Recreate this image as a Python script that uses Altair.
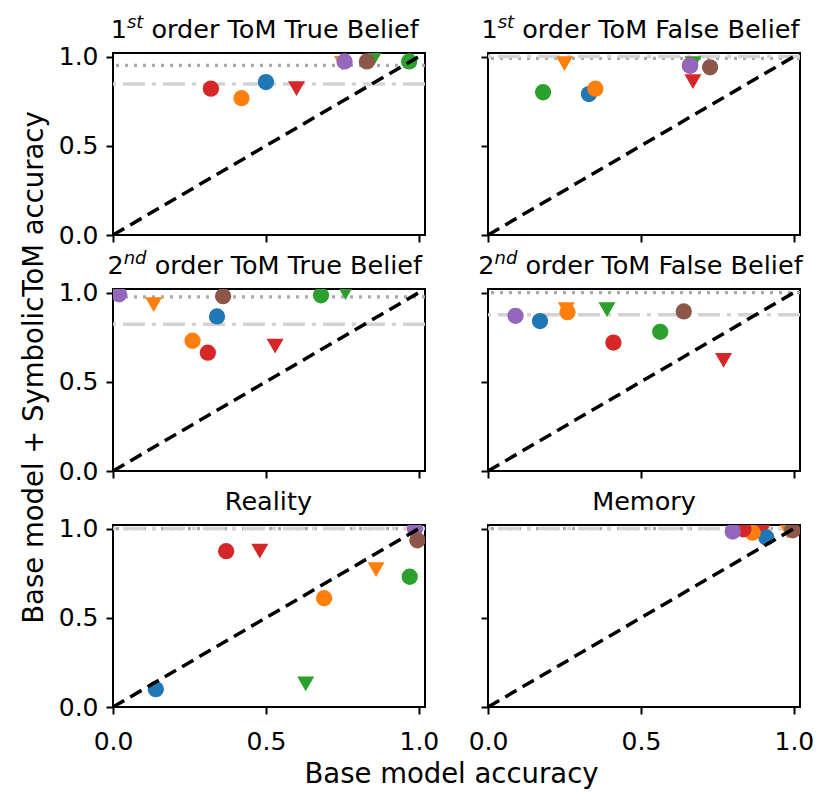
import altair as alt
import pandas as pd

# ---------------- data ----------------
title_num = ["1", "1", "2", "2", "", ""]
title_sup = ["st", "st", "nd", "nd", "", ""]
title_rest = [" order ToM True Belief", " order ToM False Belief",
              " order ToM True Belief", " order ToM False Belief",
              "Reality", "Memory"]

series_names = ["orange ▼", "green ▼", "red ▼",
                "blue ●", "orange ●", "green ●", "red ●", "purple ●", "brown ●"]
series_colors = ["#ff7f0e", "#2ca02c", "#d62728",
                 "#1f77b4", "#ff7f0e", "#2ca02c", "#d62728", "#9467bd", "#8c564b"]
series_shapes = ["triangle-down"] * 3 + ["circle"] * 6

# base model accuracy (x) / base model + SymbolicToM accuracy (y), per panel
base_tb1 = [0.75, 0.855, 0.60, 0.50, 0.42, 0.968, 0.32, 0.757, 0.83]
symb_tb1 = [0.962, 0.995, 0.82, 0.857, 0.767, 0.973, 0.82, 0.973, 0.973]

base_fb1 = [0.25, 0.67, 0.67, 0.33, 0.351, 0.18, 0.66, 0.661, 0.726]
symb_fb1 = [0.96, 0.96, 0.86, 0.79, 0.82, 0.80, 0.95, 0.949, 0.94]

base_tb2 = [0.133, 0.76, 0.53, 0.34, 0.26, 0.68, 0.31, 0.02, 0.36]
symb_tb2 = [0.932, 1.0, 0.70, 0.866, 0.73, 0.985, 0.663, 0.99, 0.98]

base_fb2 = [0.256, 0.389, 0.77, 0.17, 0.26, 0.563, 0.41, 0.09, 0.64]
symb_fb2 = [0.905, 0.905, 0.62, 0.84, 0.89, 0.78, 0.72, 0.87, 0.894]

base_real = [0.86, 0.63, 0.48, 0.14, 0.69, 0.97, 0.37, 0.987, 0.995]
symb_real = [0.77, 0.13, 0.873, 0.10, 0.61, 0.73, 0.873, 1.0, 0.934]

base_mem = [0.98, 0.995, 0.90, 0.91, 0.865, 0.995, 0.835, 0.80, 0.996]
symb_mem = [0.985, 0.995, 0.995, 0.95, 0.977, 0.995, 0.996, 0.983, 0.99]

dotted_y = [0.951, 0.99, 0.976, 1.0, 1.0, 1.0]
dashdot_y = [0.846, 1.0, 0.823, 0.875, 1.0, 1.0]

diag = [0.0, 1.02]
tick_values = [0.0, 0.5, 1.0]
axis_domain = [0.0, 1.02]

bases = [base_tb1, base_fb1, base_tb2, base_fb2, base_real, base_mem]
symbs = [symb_tb1, symb_fb1, symb_tb2, symb_fb2, symb_real, symb_mem]

# ---------------- layout helpers ----------------
W_PLOT, H_PLOT = 312, 182
FONT = "DejaVu Sans"
TITLE_SIZE = 25.5
SUP_SIZE = 18

ADV = {' ': 651, '1': 1303, '2': 1303, 'o': 1253, 'r': 842, 'd': 1300, 'e': 1260,
       'T': 1251, 'M': 1767, 'u': 1298, 'B': 1405, 'l': 569, 'i': 569, 'f': 721,
       'F': 1178, 'a': 1255, 's': 1067, 't': 803, 'n': 1298, 'R': 1423, 'y': 1212,
       'm': 1995, 'c': 1126, 'b': 1300}


def text_w(s, size):
    return sum(ADV.get(c, 1200) for c in s) / 2048.0 * size


def panel(i):
    row, col = divmod(i, 2)
    xs = alt.Scale(domain=axis_domain, nice=False, zero=False)
    ys = alt.Scale(domain=axis_domain, nice=False, zero=False)

    common = dict(values=tick_values, format=".1f", labelFlush=False)
    if i == 4:
        xaxis = alt.Axis(labels=True, titleX=338, labelPadding=15, titlePadding=6, **common)
        xtitle = "Base model accuracy"
    else:
        xaxis = alt.Axis(labels=(row == 2), labelPadding=15, **common)
        xtitle = None
    if i == 2:
        yaxis = alt.Axis(labels=True, titleY=78, labelPadding=8, titlePadding=10, **common)
        ytitle = "Base model + SymbolicToM accuracy"
    else:
        yaxis = alt.Axis(labels=(col == 0), labelPadding=8, **common)
        ytitle = None

    def X(f):
        return alt.X(f, scale=xs, axis=xaxis, title=xtitle)

    def Y(f):
        return alt.Y(f, scale=ys, axis=yaxis, title=ytitle)

    df = pd.DataFrame({"series": series_names, "base": bases[i], "symb": symbs[i],
                       "shape": series_shapes})
    color = alt.Color("series:N", scale=alt.Scale(domain=series_names, range=series_colors),
                      legend=None)

    dotted = alt.Chart(pd.DataFrame({"symb": [dotted_y[i]]})).mark_rule(
        color="#a9a9a9", strokeWidth=3.2, strokeDash=[3, 6]
    ).encode(y=Y("symb:Q"))

    dashdot = alt.Chart(pd.DataFrame({"symb": [dashdot_y[i]]})).mark_rule(
        color="#d3d3d3", strokeWidth=3.5, strokeDash=[22, 7, 4, 7]
    ).encode(y=Y("symb:Q"))

    tri = alt.Chart(df).transform_filter(alt.datum.shape == "triangle-down").mark_point(
        shape="triangle-down", filled=True, opacity=1, size=290, clip=True
    ).encode(x=X("base:Q"), y=Y("symb:Q"), color=color)

    circ = alt.Chart(df).transform_filter(alt.datum.shape == "circle").mark_point(
        shape="circle", filled=True, opacity=1, size=265, clip=True
    ).encode(x=X("base:Q"), y=Y("symb:Q"), color=color)

    line = alt.Chart(pd.DataFrame({"base": diag, "symb": diag})).mark_line(
        color="black", strokeWidth=3.5, strokeDash=[13, 7], clip=True
    ).encode(x=X("base:Q"), y=Y("symb:Q"))

    one = pd.DataFrame({"k": [0]})
    n, s, r = title_num[i], title_sup[i], title_rest[i]
    w_n = text_w(n, TITLE_SIZE)
    w_s = text_w(s, SUP_SIZE)
    lead = len(r) - len(r.lstrip(" "))
    w_lead = text_w(" " * lead, TITLE_SIZE)
    total = w_n + w_s + text_w(r, TITLE_SIZE)
    left = W_PLOT / 2 - total / 2
    layers = [dotted, dashdot, tri, circ, line]
    base_y = -15
    if n:
        layers.append(alt.Chart(one).mark_text(
            align="left", baseline="alphabetic", font=FONT, fontSize=TITLE_SIZE, color="black"
        ).encode(x=alt.value(left), y=alt.value(base_y), text=alt.value(n)))
        layers.append(alt.Chart(one).mark_text(
            align="left", baseline="alphabetic", font=FONT, fontSize=SUP_SIZE,
            fontStyle="italic", color="black"
        ).encode(x=alt.value(left + w_n), y=alt.value(base_y - 10), text=alt.value(s)))
    layers.append(alt.Chart(one).mark_text(
        align="left", baseline="alphabetic", font=FONT, fontSize=TITLE_SIZE, color="black"
    ).encode(x=alt.value(left + w_n + w_s + w_lead), y=alt.value(base_y),
             text=alt.value(r.lstrip(" "))))

    return alt.layer(*layers).properties(width=W_PLOT, height=H_PLOT)


chart = alt.concat(
    *[panel(i) for i in range(6)], columns=2,
    spacing={"row": 54, "column": 63}, bounds="flush"
).properties(
    padding={"left": 11, "top": 5, "right": 5, "bottom": 5}
).configure_view(
    stroke="black", strokeWidth=2
).configure_axis(
    grid=False, domain=False, tickColor="black", tickWidth=2, tickSize=7,
    labelFont=FONT, labelFontSize=25, labelColor="black",
    titleFont=FONT, titleFontSize=27.5, titleFontWeight="normal", titleColor="black"
)

chart.save("out.html", embed_options={"renderer": "svg", "actions": False})
